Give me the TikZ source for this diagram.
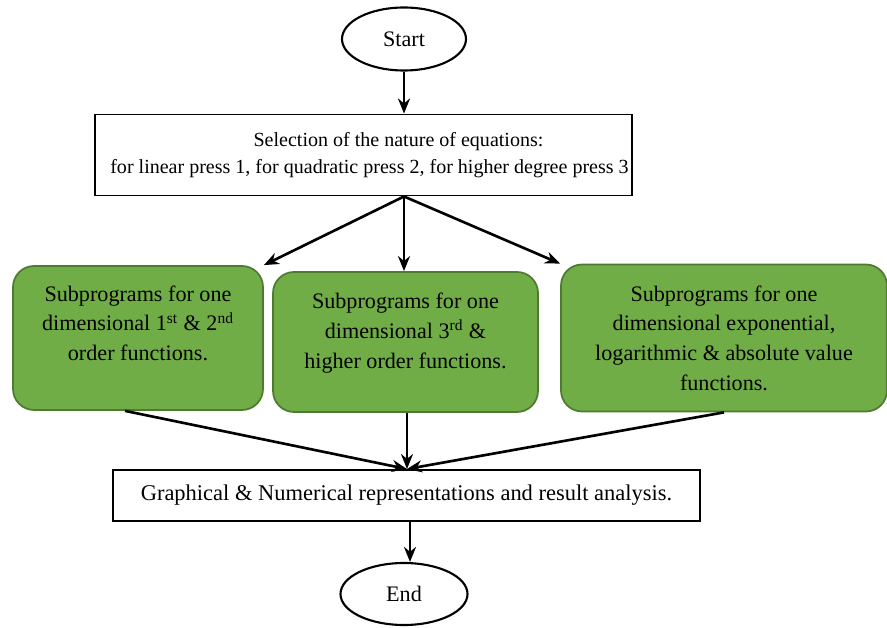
\documentclass[tikz,border=0pt]{standalone}
\usepackage{fontspec}
\setmainfont{Liberation Serif}
\usetikzlibrary{arrows.meta,shapes.geometric}
\definecolor{subgreen}{HTML}{70AD47}
\definecolor{subedge}{HTML}{4F7A32}
\tikzset{
  termnode/.style={
    ellipse,
    draw=black,
    line width=1.2pt,
    minimum width=124\unit,
    minimum height=63\unit,
    font=\fontsize{12.6}{16}\selectfont
  },
  procbox/.style={
    rectangle,
    draw=black,
    line width=1.1pt,
    inner xsep=2pt,
    align=center
  },
  subbox/.style={
    rounded corners=12pt,
    draw=subedge,
    fill=subgreen,
    line width=1pt,
    align=center,
    font=\fontsize{12.6}{16.9}\selectfont
  },
  arrow/.style={
    -{Stealth[length=3mm,width=2.4mm]},
    line width=1.5pt,
    draw=black
  }
}
\newlength{\unit}
\setlength{\unit}{0.02cm}
\begin{document}
\begin{tikzpicture}[x=0.02cm,y=-0.02cm]
\useasboundingbox (0,0) rectangle (887,628);
\node[termnode] (start) at (404,39) {Start};
\node[procbox, minimum width=537\unit, minimum height=81\unit,
  font=\fontsize{11.4}{15.5}\selectfont] (select) at (363.5,155)
  {\hspace*{70\unit}Selection of the nature of equations:\\\hspace*{12\unit}for linear press 1, for quadratic press 2, for higher degree press 3};
\node[subbox, minimum width=250\unit, minimum height=144\unit, text depth=17pt] (sub1) at (138,338)
  {Subprograms for one\\dimensional 1\textsuperscript{st} \& 2\textsuperscript{nd}\\order functions.};
\node[subbox, minimum width=265\unit, minimum height=140\unit, text depth=13pt] (sub2) at (405.5,342)
  {Subprograms for one\\dimensional 3\textsuperscript{rd} \&\\higher order functions.};
\node[subbox, minimum width=326\unit, minimum height=147\unit] (sub3) at (724,338)
  {Subprograms for one\\dimensional exponential,\\logarithmic \& absolute value\\functions.};
\node[procbox, minimum width=587\unit, minimum height=51\unit,
  font=\fontsize{12.8}{16}\selectfont] (result) at (406.5,495.5)
  {Graphical \& Numerical representations and result analysis.};
\node[termnode, minimum width=127\unit, minimum height=62\unit] (end) at (404,594) {End};
% top part
\draw[arrow] (start) -- (start |- select.north);
\coordinate (fork) at ([xshift=40.5\unit]select.south);
\draw[arrow] (fork) -- (sub1.north east);
\draw[arrow] (fork) -- (fork |- sub2.north);
\draw[arrow] (fork) -- (sub3.north west);
% bottom part
\coordinate (join) at ([xshift=0.5\unit]result.north);
\draw[arrow] ([xshift=-13\unit]sub1.south) -- (join);
\draw[arrow] (join |- sub2.south) -- (join);
\draw[arrow] (sub3.south) -- (join);
\coordinate (drop) at ([xshift=3.5\unit]result.south);
\draw[arrow] (drop) -- (drop |- end.north);
\end{tikzpicture}
\end{document}
